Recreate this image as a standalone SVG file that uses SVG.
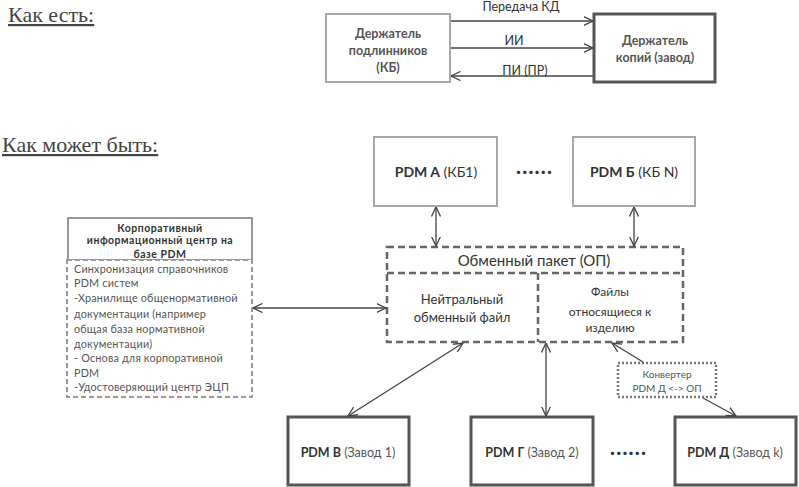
<svg xmlns="http://www.w3.org/2000/svg" width="799" height="487" viewBox="0 0 799 487">
<style>
.t{font-family:Lato,"Noto Sans",sans-serif;fill:#333}
.title{font-family:"Liberation Serif",serif;font-size:22px;fill:#444;text-decoration:underline}
.lb{fill:#fff;stroke:#a8a8a8;stroke-width:2}
.db{fill:#fff;stroke:#555;stroke-width:3}
.dash{fill:none;stroke:#666;stroke-width:2.5;stroke-dasharray:7 4}
.conn line{stroke:#444;stroke-width:1.3;fill:none}
.b{font-weight:bold}
.g{fill:#555}
.dots{font-family:Lato,sans-serif;font-weight:900;font-size:21px;fill:#333;letter-spacing:1.2px}
</style>
<defs>
<marker id="ah" viewBox="0 0 10 10" refX="9.5" refY="5" markerWidth="10" markerHeight="10" markerUnits="userSpaceOnUse" orient="auto-start-reverse">
<path d="M0,0.5 L9.5,5 L0,9.5" fill="none" stroke="#444" stroke-width="1.3"/>
</marker>
</defs>
<rect width="799" height="487" fill="#fff"/>

<text class="title" x="8" y="22">Как есть:</text>
<text class="title" x="2" y="152">Как может быть:</text>

<g id="kb">
<rect class="lb" x="326" y="14" width="124" height="68"/>
<text class="t b g" font-size="12.5" text-anchor="middle"><tspan x="388" y="38">Держатель</tspan><tspan x="388" y="55">подлинников</tspan><tspan x="388" y="72">(КБ)</tspan></text>
</g>
<g id="zavod">
<rect class="db" x="594" y="14" width="121" height="68"/>
<text class="t b g" font-size="12.5" text-anchor="middle"><tspan x="655" y="45">Держатель</tspan><tspan x="655" y="62">копий (завод)</tspan></text>
</g>

<g id="pdmA">
<rect class="lb" x="374" y="137" width="123" height="69"/>
<text class="t" font-size="14" text-anchor="middle" x="436" y="177"><tspan class="b">PDM A</tspan> (КБ1)</text>
</g>
<text class="dots" x="516" y="174">......</text>
<g id="pdmB">
<rect class="lb" x="573" y="137" width="122" height="69"/>
<text class="t" font-size="14" text-anchor="middle" x="634" y="177"><tspan class="b">PDM Б</tspan> (КБ N)</text>
</g>

<g id="corp">
<rect x="68" y="218" width="184" height="42" fill="#fff" stroke="#999" stroke-width="2"/>
<text class="t b" font-size="10.5" letter-spacing="0.5" text-anchor="middle"><tspan x="160" y="232">Корпоративный</tspan><tspan x="160" y="244">информационный центр на</tspan><tspan x="160" y="258">базе PDM</tspan></text>
<rect x="67" y="260" width="185" height="137" fill="#fff" stroke="#999" stroke-width="2" stroke-dasharray="5 3"/>
<text class="t g" font-size="10.8" letter-spacing="0.2"><tspan x="74" y="273">Синхронизация справочников</tspan><tspan x="74" y="287">PDM систем</tspan><tspan x="74" y="302">-Хранилище общенормативной</tspan><tspan x="74" y="318">документации (например</tspan><tspan x="74" y="333">общая база нормативной</tspan><tspan x="74" y="348">документации)</tspan><tspan x="74" y="362">- Основа для корпоративной</tspan><tspan x="74" y="377">PDM</tspan><tspan x="74" y="391">-Удостоверяющий центр ЭЦП</tspan></text>
</g>

<g id="op">
<rect x="387" y="247" width="296" height="95" fill="#fff"/>
<rect class="dash" x="387" y="247" width="296" height="95"/>
<line class="dash" x1="387" y1="273" x2="683" y2="273"/>
<line class="dash" x1="538" y1="273" x2="538" y2="342"/>
<text class="t" font-size="15" text-anchor="middle" x="534" y="266">Обменный пакет (ОП)</text>
<text class="t" font-size="13" text-anchor="middle"><tspan x="462" y="304">Нейтральный</tspan><tspan x="462" y="322">обменный файл</tspan></text>
<text class="t" font-size="12" text-anchor="middle"><tspan x="610" y="296">Файлы</tspan><tspan x="610" y="316">относящиеся к</tspan><tspan x="610" y="332">изделию</tspan></text>
</g>

<g id="conv">
<rect x="618" y="363" width="98" height="34" fill="#fff" stroke="#777" stroke-width="2.5" stroke-dasharray="2 2"/>
<text class="t g" font-size="10" text-anchor="middle"><tspan x="667" y="378">Конвертер</tspan><tspan x="667" y="392">PDM Д &lt;-&gt; ОП</tspan></text>
</g>

<g id="pdmV">
<rect class="db" x="288" y="417" width="121" height="68"/>
<text class="t" font-size="12.5" text-anchor="middle" x="348" y="457"><tspan class="b">PDM В</tspan> <tspan class="g">(Завод 1)</tspan></text>
</g>
<g id="pdmG">
<rect class="db" x="471" y="417" width="122" height="68"/>
<text class="t" font-size="12.5" text-anchor="middle" x="532" y="457"><tspan class="b">PDM Г</tspan> <tspan class="g">(Завод 2)</tspan></text>
</g>
<text class="dots" x="610" y="455">......</text>
<g id="pdmD">
<rect class="db" x="675" y="417" width="121" height="68"/>
<text class="t" font-size="12.5" text-anchor="middle" x="735" y="457"><tspan class="b">PDM Д</tspan> <tspan class="g">(Завод k)</tspan></text>
</g>

<g class="conn" id="connectors">
<line x1="451" y1="21" x2="593" y2="21" marker-end="url(#ah)"/>
<line x1="451" y1="48" x2="593" y2="48" marker-end="url(#ah)"/>
<line x1="593" y1="76" x2="451" y2="76" marker-end="url(#ah)"/>
<line x1="436" y1="207" x2="436" y2="246" marker-start="url(#ah)" marker-end="url(#ah)"/>
<line x1="634" y1="207" x2="634" y2="246" marker-start="url(#ah)" marker-end="url(#ah)"/>
<line x1="253" y1="308" x2="386" y2="308" marker-start="url(#ah)" marker-end="url(#ah)"/>
<line x1="463" y1="343" x2="348" y2="416" marker-start="url(#ah)" marker-end="url(#ah)"/>
<line x1="546" y1="343" x2="546" y2="416" marker-start="url(#ah)" marker-end="url(#ah)"/>
<line x1="643" y1="362" x2="612" y2="343" marker-end="url(#ah)"/>
<line x1="703" y1="398" x2="736" y2="416" marker-end="url(#ah)"/>
</g>
<g id="conn-labels">
<text class="t" font-size="12.5" text-anchor="middle" x="521" y="11">Передача КД</text>
<text class="t" font-size="12.5" text-anchor="middle" x="514" y="45">ИИ</text>
<text class="t" font-size="12.5" text-anchor="middle" x="525" y="75">ПИ (ПР)</text>
</g>
</svg>
